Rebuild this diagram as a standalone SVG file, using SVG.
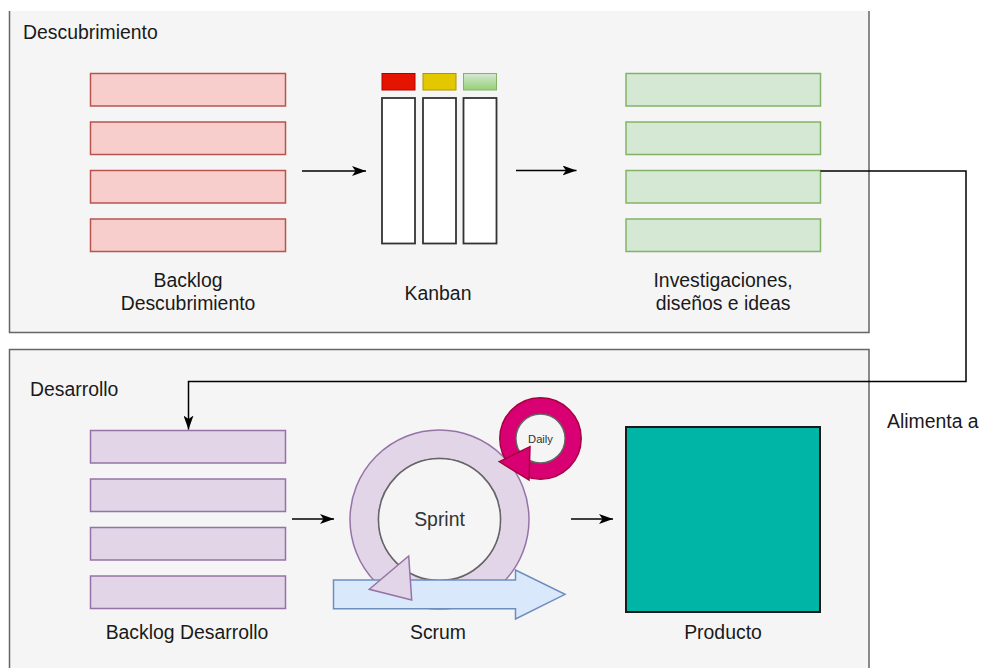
<svg xmlns="http://www.w3.org/2000/svg" width="981" height="668" viewBox="0 0 981 668">
  <defs>
    <linearGradient id="greenTab" x1="0" y1="0" x2="0" y2="1">
      <stop offset="0" stop-color="#d5e8d4"/>
      <stop offset="1" stop-color="#97d077"/>
    </linearGradient>
    <marker id="arrow" viewBox="0 0 14 10" refX="14" refY="5" markerWidth="14" markerHeight="10" markerUnits="userSpaceOnUse" orient="auto">
      <path d="M0,0 L14,5 L0,10 L3.5,5 Z" fill="#000"/>
    </marker>
    <style>
      text { font-family: "Liberation Sans", Arial, sans-serif; font-size: 19.4px; fill: #1a1a1a; }
      .lbl { text-anchor: middle; }
      .panel { fill: #f5f5f5; }
      .edge { fill: none; stroke: #666666; stroke-width: 1.5; }
      .red { fill: #f8cecc; stroke: #b85450; stroke-width: 1.5; }
      .green { fill: #d5e8d4; stroke: #82b366; stroke-width: 1.5; }
      .purple { fill: #e1d5e7; stroke: #9673a6; stroke-width: 1.5; }
      .col { fill: #ffffff; stroke: #333333; stroke-width: 1.8; }
      .conn { fill: none; stroke: #000; stroke-width: 1.5; }
      .hole { fill: #f5f5f5; stroke: #666666; stroke-width: 1.5; }
    </style>
  </defs>

  <!-- phase panels -->
  <g id="descubrimiento">
    <rect class="panel" x="9.5" y="11" width="859.5" height="321.5"/>
    <path class="edge" d="M9.5,11 V332.5 H869 V11"/>
    <text x="23" y="39">Descubrimiento</text>
  </g>
  <g id="desarrollo">
    <rect class="panel" x="9.5" y="349.5" width="859.5" height="330"/>
    <path class="edge" d="M9.5,680 V349.5 H869 V680"/>
    <text x="30" y="396">Desarrollo</text>
  </g>

  <!-- discovery backlog -->
  <g id="backlog-descubrimiento">
    <rect class="red" x="90.5" y="73.5" width="195" height="32.5"/>
    <rect class="red" x="90.5" y="122" width="195" height="32.5"/>
    <rect class="red" x="90.5" y="170.5" width="195" height="32.5"/>
    <rect class="red" x="90.5" y="219" width="195" height="32.5"/>
    <text class="lbl" x="188" y="287">Backlog</text>
    <text class="lbl" x="188" y="309.5">Descubrimiento</text>
  </g>

  <!-- kanban board -->
  <g id="kanban">
    <rect x="382" y="73.5" width="33" height="16.5" fill="#e51400" stroke="#b20000" stroke-width="1"/>
    <rect x="423" y="73.5" width="33" height="16.5" fill="#e3c800" stroke="#b09500" stroke-width="1"/>
    <rect x="463.5" y="73.5" width="33" height="16.5" fill="url(#greenTab)" stroke="#82b366" stroke-width="1"/>
    <rect class="col" x="382" y="98" width="33" height="145.5"/>
    <rect class="col" x="423" y="98" width="33" height="145.5"/>
    <rect class="col" x="463.5" y="98" width="33" height="145.5"/>
    <text class="lbl" x="438" y="299.5">Kanban</text>
  </g>

  <!-- discovery output -->
  <g id="investigaciones">
    <rect class="green" x="626" y="73.5" width="194.5" height="32.5"/>
    <rect class="green" x="626" y="122" width="194.5" height="32.5"/>
    <rect class="green" x="626" y="170.5" width="194.5" height="32.5"/>
    <rect class="green" x="626" y="219" width="194.5" height="32.5"/>
    <text class="lbl" x="723" y="287">Investigaciones,</text>
    <text class="lbl" x="723" y="309.5">diseños e ideas</text>
  </g>

  <!-- development backlog -->
  <g id="backlog-desarrollo">
    <rect class="purple" x="90.5" y="430.5" width="195" height="32.5"/>
    <rect class="purple" x="90.5" y="479" width="195" height="32.5"/>
    <rect class="purple" x="90.5" y="527.5" width="195" height="32.5"/>
    <rect class="purple" x="90.5" y="576" width="195" height="32.5"/>
    <text class="lbl" x="187" y="639">Backlog Desarrollo</text>
  </g>

  <!-- scrum cycle: sprint loop, daily loop and timeline arrow -->
  <g id="scrum">
    <path class="purple" fill-rule="evenodd" d="M350,519.5 a89.5,89.5 0 1,0 179,0 a89.5,89.5 0 1,0 -179,0 Z M378.5,519.5 a61,61 0 1,0 122,0 a61,61 0 1,0 -122,0 Z"/>
    <circle class="hole" cx="439.5" cy="519.5" r="61"/>
    <text x="439.5" y="526" text-anchor="middle" style="fill:#333333">Sprint</text>
    <polygon points="333.5,580 515.5,580 515.5,570 565,594.3 515.5,619 515.5,608.7 333.5,608.7" fill="#dae8fc" stroke="#6c8ebf" stroke-width="1.5"/>
    <polygon points="369.3,589.3 408.7,556 411.7,600" fill="#e1d5e7" stroke="#9673a6" stroke-width="1.5"/>
    <path fill-rule="evenodd" fill="#d80073" stroke="#a50040" stroke-width="1.5" d="M499.8,438.5 a40.7,40.7 0 1,0 81.4,0 a40.7,40.7 0 1,0 -81.4,0 Z M515.9,438.5 a24.6,24.6 0 1,0 49.2,0 a24.6,24.6 0 1,0 -49.2,0 Z"/>
    <circle class="hole" cx="540.5" cy="438.5" r="24.6"/>
    <text x="540.5" y="442.5" text-anchor="middle" style="font-size:11.2px;fill:#333333">Daily</text>
    <polygon points="499.3,461.7 530,446.7 529,480" fill="#d80073" stroke="#a50040" stroke-width="1.5"/>
    <text class="lbl" x="438" y="639">Scrum</text>
  </g>

  <!-- delivered product -->
  <g id="producto">
    <rect x="626" y="427" width="194" height="185" fill="#00b4a6" stroke="#1a1a1a" stroke-width="2"/>
    <text class="lbl" x="723" y="638.5">Producto</text>
  </g>

  <!-- connectors -->
  <g id="connectors">
    <path class="conn" d="M302,171 H366" marker-end="url(#arrow)"/>
    <path class="conn" d="M516,170.5 H576.5" marker-end="url(#arrow)"/>
    <path class="conn" d="M820.5,171 H966 V381.5 H188.5 V429.5" marker-end="url(#arrow)"/>
    <path class="conn" d="M292,519 H334" marker-end="url(#arrow)"/>
    <path class="conn" d="M571,519 H613" marker-end="url(#arrow)"/>
    <text x="887" y="428">Alimenta a</text>
  </g>
</svg>
